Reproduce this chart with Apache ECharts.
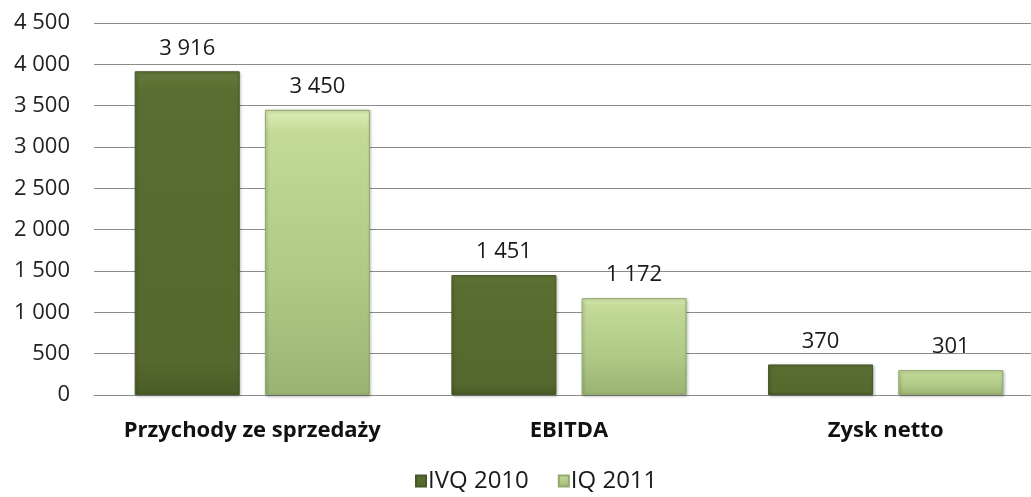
<!DOCTYPE html>
<html>
<head>
<meta charset="utf-8">
<script src="https://cdn.jsdelivr.net/npm/echarts@6/dist/echarts.min.js"></script>
<style>
  html, body { margin: 0; padding: 0; background: #fff; overflow: hidden; }
  /* wykres szerszy niż okno - prawa krawędź obcięta jak w oryginale */
  #box { width: 1045px; height: 497px; }
</style>
</head>
<body>
<div id="box"></div>
<script>
// dane z wykresu
var categories = ["Przychody ze sprzedaży", "EBITDA", "Zysk netto"];
var seriesNames = ["IVQ 2010", "IQ 2011"];
var ivq2010 = [3916, 1451, 370];
var iq2011 = [3450, 1172, 301];
var yTicks = { min: 0, max: 4500, interval: 500 };

function fmt(v) {
  return String(v).replace(/\B(?=(\d{3})+(?!\d))/g, " ");
}

var darkFill = new echarts.graphic.LinearGradient(0, 0, 0, 1, [
  { offset: 0, color: "#657a3b" },
  { offset: 0.06, color: "#5a6e31" },
  { offset: 0.9, color: "#55682d" },
  { offset: 1, color: "#4a5c27" }
]);
var lightFill = new echarts.graphic.LinearGradient(0, 0, 0, 1, [
  { offset: 0, color: "#dcefb6" },
  { offset: 0.08, color: "#c3da98" },
  { offset: 0.6, color: "#b0c986" },
  { offset: 1, color: "#9ab373" }
]);

var myChart = echarts.init(document.getElementById("box"));
var labelStyle = {
  show: true,
  position: "top",
  distance: 12,
  fontFamily: "Open Sans",
  fontSize: 22,
  color: "#1a1a1a",
  formatter: function (p) { return fmt(p.value); }
};

var option = {
  animation: false,
  textStyle: { fontFamily: "Open Sans" },
  grid: { left: 94, right: 1, top: 23, bottom: 102, containLabel: false },
  legend: {
    data: seriesNames,
    bottom: -1,
    left: 410,
    itemWidth: 10,
    itemHeight: 11,
    itemGap: 29,
    icon: "rect",
    textStyle: { fontSize: 24, color: "#1a1a1a", fontFamily: "Open Sans", padding: [0, 0, 0, -3] }
  },
  xAxis: {
    type: "category",
    data: categories,
    axisLine: { show: true, lineStyle: { color: "#8c8c8c", width: 1 } },
    axisTick: { show: false },
    axisLabel: {
      interval: 0,
      margin: 25,
      fontSize: 22,
      fontWeight: "bold",
      color: "#111",
      fontFamily: "Open Sans"
    }
  },
  yAxis: {
    type: "value",
    min: yTicks.min,
    max: yTicks.max,
    interval: yTicks.interval,
    axisLine: { show: false },
    axisTick: { show: false },
    splitLine: { lineStyle: { color: "#8c8c8c", width: 1 } },
    axisLabel: {
      margin: 24,
      fontSize: 22,
      color: "#222",
      fontFamily: "Open Sans",
      formatter: function (v) { return fmt(v); }
    }
  },
  series: [
    {
      name: seriesNames[0],
      type: "bar",
      data: ivq2010,
      barWidth: 105,
      barGap: "24%",
      itemStyle: { color: darkFill, borderColor: "#46572a", borderWidth: 1,
        shadowColor: "rgba(0,0,0,0.3)", shadowBlur: 3, shadowOffsetX: 1, shadowOffsetY: 1 },
      label: labelStyle
    },
    {
      name: seriesNames[1],
      type: "bar",
      data: iq2011,
      barWidth: 105,
      itemStyle: { color: lightFill, borderColor: "#93a96f", borderWidth: 1,
        shadowColor: "rgba(0,0,0,0.3)", shadowBlur: 3, shadowOffsetX: 1, shadowOffsetY: 1 },
      label: labelStyle
    }
  ]
};
myChart.setOption(option);
</script>
</body>
</html>
